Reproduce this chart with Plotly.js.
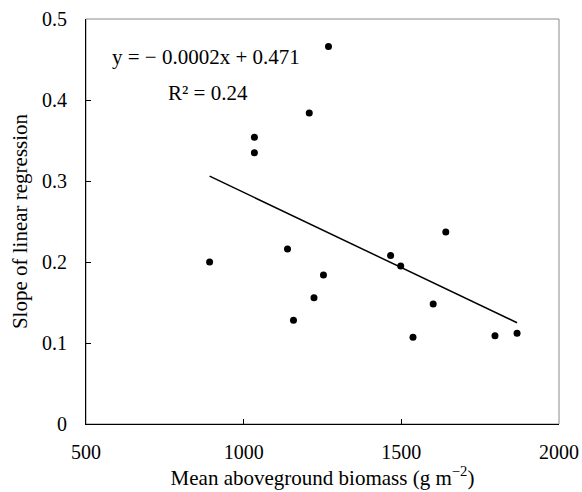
<!DOCTYPE html>
<html>
<head>
<meta charset="utf-8">
<script src="https://cdn.plot.ly/plotly-3.0.1.min.js"></script>
<style>html,body{margin:0;padding:0;background:#fff;}#chart{width:582px;height:492px;}</style>
</head>
<body>
<div id="chart"></div>
<script>
// Data
const biomass = [892, 1034, 1034, 1139, 1158, 1208, 1223, 1253, 1269, 1466, 1498, 1537, 1601, 1641, 1797, 1867];
const slopeValues = [0.200, 0.354, 0.335, 0.216, 0.128, 0.384, 0.156, 0.184, 0.466, 0.208, 0.195, 0.107, 0.148, 0.237, 0.109, 0.112];
// Fitted regression line end points (as drawn)
const trendX = [892, 1867];
const trendY = [0.306, 0.125];
const xTicks = [500, 1000, 1500, 2000];
const yTicks = [0, 0.1, 0.2, 0.3, 0.4, 0.5];
const eqText = "y = \u2212 0.0002x + 0.471";
const r2Text = "R\u00b2 = 0.24";

const fam = "Liberation Serif, Times New Roman, serif";
const tickFont = {family: fam, size: 20, color: "#000"};
const titleFont = {family: fam, size: 21, color: "#000"};

const traces = [
  {x: trendX, y: trendY, mode: "lines", type: "scatter", line: {color: "#000", width: 1.5}, hoverinfo: "skip"},
  {x: biomass, y: slopeValues, mode: "markers", type: "scatter", marker: {color: "#000", size: 7}}
];

const layout = {
  width: 582, height: 492,
  margin: {l: 86, r: 23, t: 19, b: 68},
  paper_bgcolor: "#fff", plot_bgcolor: "#fff",
  showlegend: false,
  font: tickFont,
  xaxis: {
    range: [500, 2000], tickvals: xTicks, ticktext: xTicks.map(String),
    showgrid: false, zeroline: false, showline: true, linecolor: "#000", linewidth: 1,
    ticks: "inside", ticklen: 5, tickcolor: "#000", ticklabelstandoff: 10,
    tickfont: tickFont,
    title: {text: "Mean aboveground biomass (g m<sup>\u22122</sup>)", font: titleFont, standoff: 6}
  },
  yaxis: {
    range: [0, 0.5], tickvals: yTicks, ticktext: ["0", "0.1", "0.2", "0.3", "0.4", "0.5"],
    showgrid: false, zeroline: false, showline: true, linecolor: "#000", linewidth: 1,
    ticks: "inside", ticklen: 5, tickcolor: "#000", ticklabelstandoff: 14,
    tickfont: tickFont,
    title: {text: "Slope of linear regression", font: titleFont, standoff: 8}
  },
  shapes: [
    {type: "rect", xref: "paper", yref: "paper", x0: 0, x1: 1, y0: 0, y1: 1, line: {color: "#8a8a8a", width: 1}, layer: "below"}
  ],
  annotations: [
    {xref: "paper", yref: "paper", x: 0.05, y: 0.906, xanchor: "left", yanchor: "middle", text: eqText, showarrow: false, font: titleFont},
    {xref: "paper", yref: "paper", x: 0.169, y: 0.817, xanchor: "left", yanchor: "middle", text: r2Text, showarrow: false, font: titleFont}
  ]
};

Plotly.newPlot("chart", traces, layout, {displayModeBar: false, staticPlot: true});
</script>
</body>
</html>
